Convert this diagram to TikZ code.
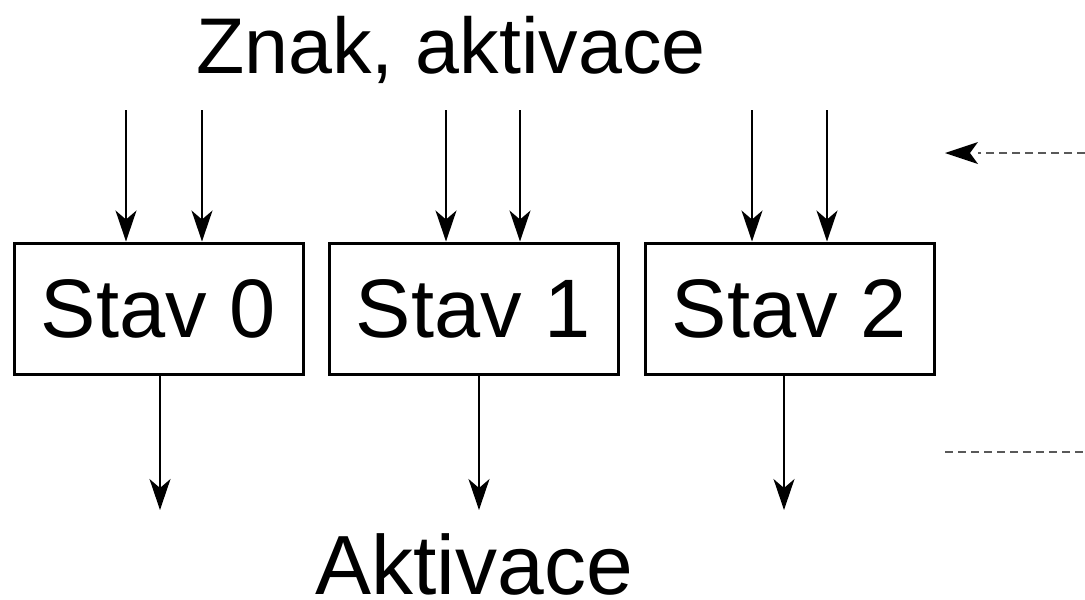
\documentclass[tikz,border=0pt]{standalone}
\usepackage{fontspec}
\setmainfont{Liberation Sans}
\usetikzlibrary{arrows.meta}
\begin{document}
\begin{tikzpicture}[x=1pt,y=-1pt,
  statebox/.style={draw,line width=3pt,minimum width=289pt,minimum height=131pt,inner sep=0pt,
    font=\fontsize{83}{100}\selectfont},
  biglabel/.style={anchor=base,inner sep=0pt,font=\fontsize{84}{100}\selectfont},
  flow/.style={line width=1.6pt,-{Stealth[length=31pt,width=21pt,inset=9pt]}},
  hint/.style={line width=2pt,draw=black!65,dash pattern=on 8pt off 5pt}]
\useasboundingbox (0,0) rectangle (1085,600);

% the three state registers
\node[statebox] (b0) at (158.5,308.5) {Stav 0};
\node[statebox] (b1) at (473.5,308.5) {Stav 1};
\node[statebox] (b2) at (789.5,308.5) {Stav 2};

% labels
\node[biglabel,font=\fontsize{79}{95}\selectfont] (inlbl) at (451,73) {Znak, aktivace};
\node[biglabel] (outlbl) at (474,594) {Aktivace};

% input lines
\coordinate (i0a) at (126,110);
\coordinate (i0b) at (202,110);
\coordinate (i1a) at (446,110);
\coordinate (i1b) at (520,110);
\coordinate (i2a) at (752,110);
\coordinate (i2b) at (827,110);
\draw[flow] (i0a) -- (i0a |- b0.north);
\draw[flow] (i0b) -- (i0b |- b0.north);
\draw[flow] (i1a) -- (i1a |- b1.north);
\draw[flow] (i1b) -- (i1b |- b1.north);
\draw[flow] (i2a) -- (i2a |- b2.north);
\draw[flow] (i2b) -- (i2b |- b2.north);

% output lines
\coordinate (o0) at (160,510);
\coordinate (o1) at (479,510);
\coordinate (o2) at (784,510);
\draw[flow] (b0.south -| o0) -- (o0);
\draw[flow] (b1.south -| o1) -- (o1);
\draw[flow] (b2.south -| o2) -- (o2);

% dashed continuation hints on the right
\coordinate (dinS) at (1085,153);
\coordinate (dinE) at (945,153);
\coordinate (doutS) at (945,452);
\coordinate (doutE) at (1085,452);
\draw[hint] (dinS) -- (978,153);
\fill (dinE) -- (978,142) -- (970,153) -- (978,164) -- cycle;
\draw[hint] (doutS) -- (doutE);
\end{tikzpicture}
\end{document}
